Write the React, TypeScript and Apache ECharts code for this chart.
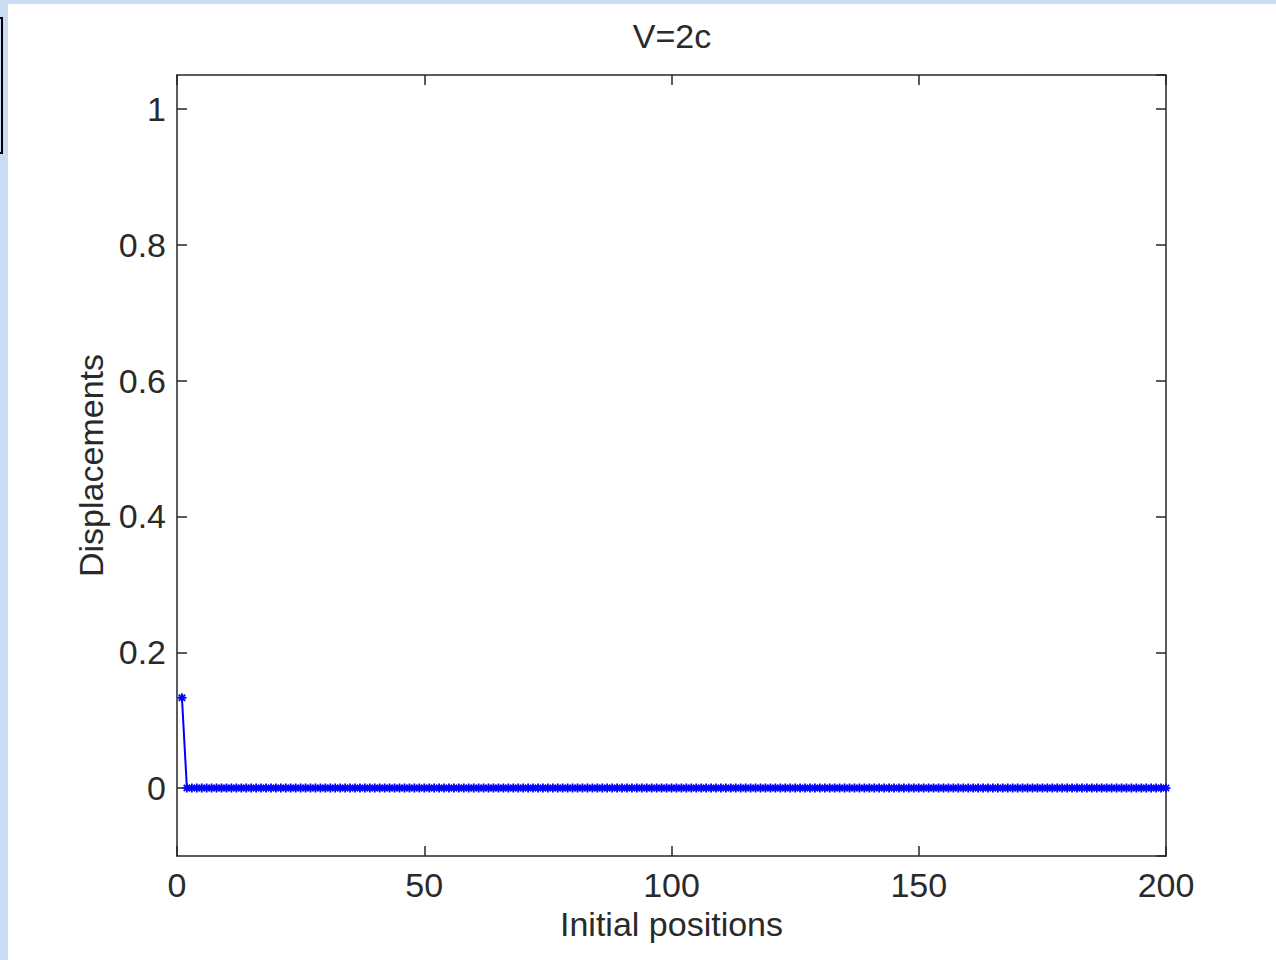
import React, { useEffect, useRef } from "react";
import * as echarts from "echarts";

const titleText = "V=2c";
const xAxisName = "Initial positions";
const yAxisName = "Displacements";
const xTicks = [0, 50, 100, 150, 200];
const yTicks = [0, 0.2, 0.4, 0.6, 0.8, 1];

// Initial positions 1..200
const positions: number[] = [
  1, 2, 3, 4, 5, 6, 7, 8, 9, 10, 11, 12, 13, 14, 15, 16, 17, 18, 19, 20,
  21, 22, 23, 24, 25, 26, 27, 28, 29, 30, 31, 32, 33, 34, 35, 36, 37, 38, 39, 40,
  41, 42, 43, 44, 45, 46, 47, 48, 49, 50, 51, 52, 53, 54, 55, 56, 57, 58, 59, 60,
  61, 62, 63, 64, 65, 66, 67, 68, 69, 70, 71, 72, 73, 74, 75, 76, 77, 78, 79, 80,
  81, 82, 83, 84, 85, 86, 87, 88, 89, 90, 91, 92, 93, 94, 95, 96, 97, 98, 99, 100,
  101, 102, 103, 104, 105, 106, 107, 108, 109, 110, 111, 112, 113, 114, 115, 116, 117, 118, 119, 120,
  121, 122, 123, 124, 125, 126, 127, 128, 129, 130, 131, 132, 133, 134, 135, 136, 137, 138, 139, 140,
  141, 142, 143, 144, 145, 146, 147, 148, 149, 150, 151, 152, 153, 154, 155, 156, 157, 158, 159, 160,
  161, 162, 163, 164, 165, 166, 167, 168, 169, 170, 171, 172, 173, 174, 175, 176, 177, 178, 179, 180,
  181, 182, 183, 184, 185, 186, 187, 188, 189, 190, 191, 192, 193, 194, 195, 196, 197, 198, 199, 200,
];

// Displacements
const displacements: number[] = [
  0.133, 0, 0, 0, 0, 0, 0, 0, 0, 0, 0, 0, 0, 0, 0, 0, 0, 0, 0, 0,
  0, 0, 0, 0, 0, 0, 0, 0, 0, 0, 0, 0, 0, 0, 0, 0, 0, 0, 0, 0,
  0, 0, 0, 0, 0, 0, 0, 0, 0, 0, 0, 0, 0, 0, 0, 0, 0, 0, 0, 0,
  0, 0, 0, 0, 0, 0, 0, 0, 0, 0, 0, 0, 0, 0, 0, 0, 0, 0, 0, 0,
  0, 0, 0, 0, 0, 0, 0, 0, 0, 0, 0, 0, 0, 0, 0, 0, 0, 0, 0, 0,
  0, 0, 0, 0, 0, 0, 0, 0, 0, 0, 0, 0, 0, 0, 0, 0, 0, 0, 0, 0,
  0, 0, 0, 0, 0, 0, 0, 0, 0, 0, 0, 0, 0, 0, 0, 0, 0, 0, 0, 0,
  0, 0, 0, 0, 0, 0, 0, 0, 0, 0, 0, 0, 0, 0, 0, 0, 0, 0, 0, 0,
  0, 0, 0, 0, 0, 0, 0, 0, 0, 0, 0, 0, 0, 0, 0, 0, 0, 0, 0, 0,
  0, 0, 0, 0, 0, 0, 0, 0, 0, 0, 0, 0, 0, 0, 0, 0, 0, 0, 0, 0,
];

const FONT = "'Liberation Sans', Arial, sans-serif";
const TXT = "#2a2a2a";

export default function App() {
  const ref = useRef<HTMLDivElement>(null);
  useEffect(() => {
    if (!ref.current) return;
    const chart = echarts.init(ref.current, null, { renderer: "svg" });
    const labelStyle = { color: TXT, fontSize: 34, fontFamily: FONT };
    const fmtY = (v: number) => {
      const r = Math.round(v * 10) / 10;
      return yTicks.some((t) => Math.abs(t - v) < 1e-6) ? String(r) : "";
    };
    const fmtX = (v: number) => (xTicks.includes(v) ? String(v) : "");
    const lineStyle = { color: "#262626", width: 1.5 };
    chart.setOption({
      animation: false,
      backgroundColor: "#ffffff",
      title: {
        text: titleText,
        left: 667,
        top: 14,
        textAlign: "center",
        textStyle: { ...labelStyle, fontWeight: "normal" },
      },
      grid: { left: 177, right: 110, top: 75, bottom: 104, containLabel: false },
      xAxis: [
        {
          type: "value",
          min: 0,
          max: 200,
          interval: 50,
          position: "bottom",
          name: xAxisName,
          nameLocation: "middle",
          nameGap: 51,
          nameTextStyle: labelStyle,
          axisLine: { show: true, onZero: false, lineStyle },
          axisTick: { show: true, inside: true, length: 10, lineStyle },
          axisLabel: { ...labelStyle, margin: 12, formatter: fmtX },
          splitLine: { show: false },
        },
        {
          type: "value",
          min: 0,
          max: 200,
          interval: 50,
          position: "top",
          axisLine: { show: true, onZero: false, lineStyle },
          axisTick: { show: true, inside: true, length: 10, lineStyle },
          axisLabel: { show: false },
          splitLine: { show: false },
        },
      ],
      yAxis: [
        {
          type: "value",
          min: -0.1,
          max: 1.05,
          splitNumber: 5,
          position: "left",
          name: yAxisName,
          nameLocation: "middle",
          nameGap: 64,
          nameRotate: 90,
          nameTextStyle: labelStyle,
          axisLine: { show: true, onZero: false, lineStyle },
          axisTick: { show: true, inside: true, length: 10, lineStyle },
          axisLabel: { ...labelStyle, margin: 11, showMinLabel: false, showMaxLabel: false, formatter: fmtY },
          splitLine: { show: false },
        },
        {
          type: "value",
          min: -0.1,
          max: 1.05,
          splitNumber: 5,
          position: "right",
          axisLine: { show: true, onZero: false, lineStyle },
          axisTick: { show: true, inside: true, length: 10, lineStyle },
          axisLabel: { show: false },
          splitLine: { show: false },
        },
      ],
      graphic: [
        { type: "rect", shape: { x: 0, y: 0, width: 1276, height: 4 }, style: { fill: "#c9dcf4" }, silent: true },
        { type: "rect", shape: { x: 0, y: 0, width: 8, height: 960 }, style: { fill: "#c9dcf4" }, silent: true },
        { type: "rect", shape: { x: -10, y: 18, width: 12, height: 135 }, style: { fill: "none", stroke: "#000", lineWidth: 2 }, silent: true },
      ],
      series: [
        {
          type: "line",
          xAxisIndex: 0,
          yAxisIndex: 0,
          data: positions.map((p, i) => [p, displacements[i]]),
          showSymbol: true,
          symbol: "path://M0,5L10,5M5,0L5,10M1.5,1.5L8.5,8.5M8.5,1.5L1.5,8.5",
          symbolSize: 9,
          itemStyle: { color: "#0000ff", borderColor: "#0000ff", borderWidth: 1.8 },
          lineStyle: { color: "#0000ff", width: 2 },
          clip: false,
        },
      ],
    });
    return () => chart.dispose();
  }, []);
  return (
    <div
      ref={ref}
      style={{ position: "fixed", left: 0, top: 0, width: 1276, height: 960 }}
    />
  );
}
